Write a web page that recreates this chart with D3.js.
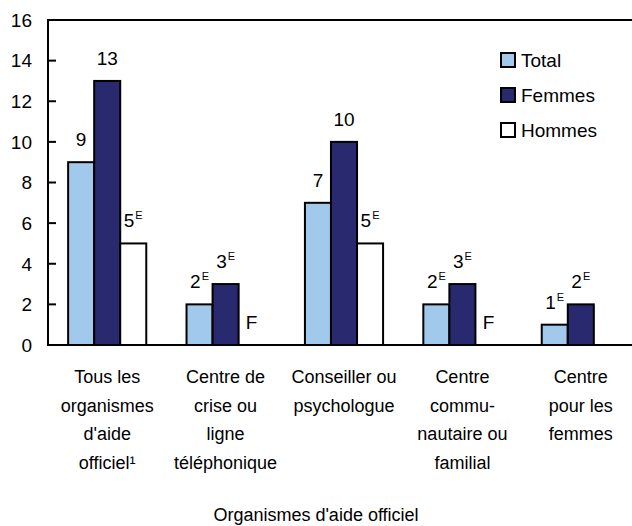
<!DOCTYPE html>
<html>
<head>
<meta charset="utf-8">
<script src="https://cdn.jsdelivr.net/npm/d3@7"></script>
<style>
  body { margin: 0; background: #fff; }
  svg text { font-family: "Liberation Sans", Arial, sans-serif; fill: #000; }
</style>
</head>
<body>
<svg id="chart" width="632" height="526"></svg>
<script>
// données
const categories = [
  ["Tous les", "organismes", "d'aide", "officiel¹"],
  ["Centre de", "crise ou", "ligne", "téléphonique"],
  ["Conseiller ou", "psychologue"],
  ["Centre", "commu-", "nautaire ou", "familial"],
  ["Centre", "pour les", "femmes"]
];
const series = ["Total", "Femmes", "Hommes"];
const total = [9, 2, 7, 2, 1];
const femmes = [13, 3, 10, 3, 2];
const hommes = [5, null, 5, null, null];
// "E" = à utiliser avec prudence, "F" = trop peu fiable
const totalFlag = ["", "E", "", "E", "E"];
const femmesFlag = ["", "E", "", "E", "E"];
const hommesFlag = ["E", "F", "E", "F", ""];
const yTicks = [0, 2, 4, 6, 8, 10, 12, 14, 16];
const xTitle = "Organismes d'aide officiel";

const colors = ["#a0c9eb", "#29296f", "#ffffff"];
const values = [total, femmes, hommes];
const flags = [totalFlag, femmesFlag, hommesFlag];

const svg = d3.select("#chart");
const mLeft = 48, mTop = 20, mBottom = 345, mRight = 640;
const fs = 18, fsNum = 19;

const x0 = d3.scaleBand()
    .domain(d3.range(categories.length))
    .range([mLeft, mRight])
    .paddingInner(0.34)
    .paddingOuter(0.17);
const x1 = d3.scaleBand()
    .domain(d3.range(series.length))
    .range([0, x0.bandwidth()]);
const y = d3.scaleLinear()
    .domain([0, 16])
    .range([mBottom, mTop]);

// axe vertical
svg.selectAll(".ytick").data(yTicks).enter().append("text")
    .attr("x", 32)
    .attr("y", d => y(d))
    .attr("dy", "0.36em")
    .attr("text-anchor", "end")
    .attr("font-size", fsNum)
    .text(d => d);
svg.selectAll(".ytickline").data(yTicks).enter().append("line")
    .attr("x1", mLeft).attr("x2", mLeft + 8)
    .attr("y1", d => y(d)).attr("y2", d => y(d))
    .attr("stroke", "#000").attr("stroke-width", 2);

// barres
series.forEach((s, si) => {
    values[si].forEach((v, ci) => {
        const bx = x0(ci) + x1(si);
        if (v != null) {
            svg.append("rect")
                .attr("x", bx)
                .attr("y", y(v))
                .attr("width", x1.bandwidth())
                .attr("height", y(0) - y(v))
                .attr("fill", colors[si])
                .attr("stroke", "#000")
                .attr("stroke-width", 2);
        }
        const f = flags[si][ci];
        if (v == null && f != "F") return;
        const t = svg.append("text")
            .attr("x", bx + x1.bandwidth() / 2)
            .attr("y", y(v == null ? 0 : v) - 16)
            .attr("text-anchor", "middle")
            .attr("font-size", fsNum);
        if (f == "F") {
            t.text("F");
        } else {
            t.append("tspan").text(v);
            if (f == "E") {
                t.append("tspan")
                    .attr("font-size", 11)
                    .attr("dy", -8)
                    .attr("dx", 1)
                    .text("E");
            }
        }
    });
});

// cadre
svg.append("line")
    .attr("x1", mLeft).attr("x2", 632)
    .attr("y1", mTop).attr("y2", mTop)
    .attr("stroke", "#000").attr("stroke-width", 2);
svg.append("line")
    .attr("x1", mLeft).attr("x2", mLeft)
    .attr("y1", mTop - 1).attr("y2", mBottom + 1)
    .attr("stroke", "#000").attr("stroke-width", 2);
svg.append("line")
    .attr("x1", mLeft).attr("x2", 632)
    .attr("y1", mBottom).attr("y2", mBottom)
    .attr("stroke", "#000").attr("stroke-width", 2);

// libellés des catégories
categories.forEach((lines, ci) => {
    const t = svg.append("text")
        .attr("x", x0(ci) + x0.bandwidth() / 2)
        .attr("y", 383)
        .attr("text-anchor", "middle")
        .attr("font-size", fs);
    lines.forEach((l, i) => {
        t.append("tspan")
            .attr("x", x0(ci) + x0.bandwidth() / 2)
            .attr("dy", i == 0 ? 0 : 28.5)
            .text(l);
    });
});

svg.append("text")
    .attr("x", 316)
    .attr("y", 521)
    .attr("text-anchor", "middle")
    .attr("font-size", fs)
    .text(xTitle);

// légende
series.forEach((s, si) => {
    const ly = 60 + si * 35;
    svg.append("rect")
        .attr("x", 501).attr("y", ly - 7)
        .attr("width", 14).attr("height", 14)
        .attr("fill", colors[si])
        .attr("stroke", "#000").attr("stroke-width", 2);
    svg.append("text")
        .attr("x", 521).attr("y", ly)
        .attr("dy", "0.36em")
        .attr("font-size", fsNum)
        .text(s);
});
</script>
</body>
</html>
